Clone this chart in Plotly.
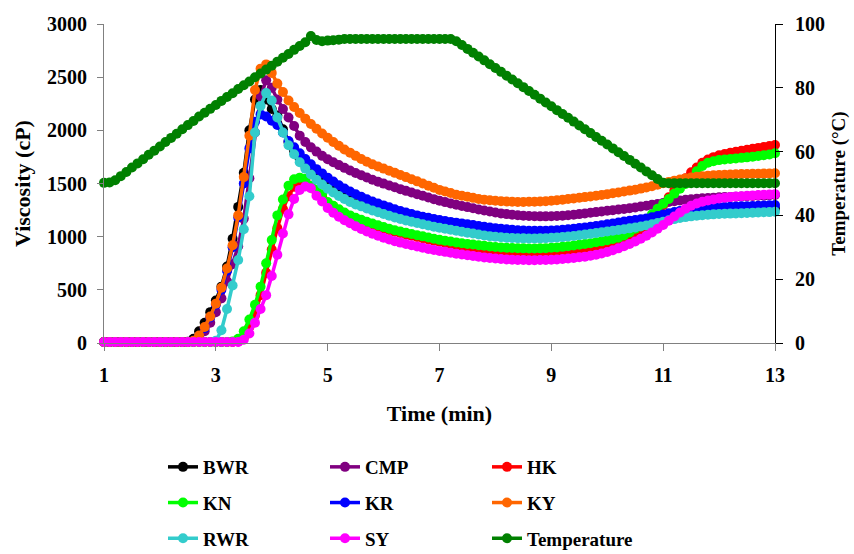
import plotly.graph_objects as go

time_min = [
    1.0, 1.1, 1.2, 1.3, 1.4, 1.5, 1.6, 1.7, 1.8, 1.9,
    2.0, 2.1, 2.2, 2.3, 2.4, 2.5, 2.6, 2.7, 2.8, 2.9,
    3.0, 3.1, 3.2, 3.3, 3.4, 3.5, 3.6, 3.7, 3.8, 3.9,
    4.0, 4.1, 4.2, 4.3, 4.4, 4.5, 4.6, 4.7, 4.8, 4.9,
    5.0, 5.1, 5.2, 5.3, 5.4, 5.5, 5.6, 5.7, 5.8, 5.9,
    6.0, 6.1, 6.2, 6.3, 6.4, 6.5, 6.6, 6.7, 6.8, 6.9,
    7.0, 7.1, 7.2, 7.3, 7.4, 7.5, 7.6, 7.7, 7.8, 7.9,
    8.0, 8.1, 8.2, 8.3, 8.4, 8.5, 8.6, 8.7, 8.8, 8.9,
    9.0, 9.1, 9.2, 9.3, 9.4, 9.5, 9.6, 9.7, 9.8, 9.9,
    10.0, 10.1, 10.2, 10.3, 10.4, 10.5, 10.6, 10.7, 10.8, 10.9,
    11.0, 11.1, 11.2, 11.3, 11.4, 11.5, 11.6, 11.7, 11.8, 11.9,
    12.0, 12.1, 12.2, 12.3, 12.4, 12.5, 12.6, 12.7, 12.8, 12.9,
    13.0,
]

bwr = [
    10, 10, 10, 10, 10, 10, 10, 10, 10, 10,
    10, 10, 10, 10, 10, 12, 40, 110, 190, 290,
    400, 530, 720, 980, 1280, 1600, 2000, 2290, 2380, 2290,
    2200, 2140, 2010, 1890, 1805, 1730, 1670, 1615, 1565, 1520,
    1480, 1445, 1413, 1384, 1357, 1333, 1315, 1295, 1276, 1259,
    1243, 1227, 1210, 1196, 1183, 1171, 1159, 1147, 1135, 1124,
    1114, 1104, 1095, 1086, 1077, 1068, 1059, 1050, 1042, 1035,
    1029, 1024, 1020, 1017, 1015, 1014, 1013, 1013, 1014, 1016,
    1019, 1022, 1026, 1031, 1037, 1043, 1050, 1058, 1065, 1072,
    1079, 1086, 1093, 1100, 1108, 1116, 1125, 1135, 1146, 1158,
    1171, 1184, 1195, 1205, 1214, 1221, 1227, 1232, 1236, 1240,
    1243, 1245, 1247, 1249, 1251, 1253, 1255, 1257, 1259, 1261,
    1265,
]

cmp_ = [
    10, 10, 10, 10, 10, 10, 10, 10, 10, 10,
    10, 10, 10, 10, 10, 10, 15, 50, 110, 190,
    290, 420, 580, 740, 910, 1170, 1550, 1980, 2320, 2470,
    2400, 2290, 2200, 2120, 2040, 1950, 1890, 1840, 1800, 1760,
    1728, 1700, 1673, 1647, 1622, 1599, 1577, 1556, 1536, 1517,
    1499, 1481, 1464, 1447, 1431, 1415, 1399, 1384, 1368, 1353,
    1338, 1325, 1312, 1300, 1289, 1278, 1267, 1256, 1246, 1236,
    1227, 1219, 1212, 1206, 1201, 1197, 1194, 1192, 1191, 1191,
    1192, 1194, 1197, 1201, 1206, 1212, 1218, 1225, 1231, 1237,
    1243, 1249, 1255, 1261, 1268, 1275, 1283, 1291, 1299, 1308,
    1317, 1326, 1334, 1341, 1347, 1352, 1357, 1361, 1364, 1367,
    1370, 1372, 1374, 1376, 1378, 1380, 1382, 1384, 1386, 1389,
    1392,
]

hk = [
    10, 10, 10, 10, 10, 10, 10, 10, 10, 10,
    10, 10, 10, 10, 10, 10, 10, 10, 10, 10,
    10, 10, 10, 10, 15, 50, 150, 260, 450, 660,
    880, 1080, 1260, 1380, 1470, 1520, 1530, 1470, 1420, 1380,
    1320, 1285, 1250, 1220, 1192, 1168, 1147, 1128, 1110, 1093,
    1077, 1062, 1047, 1034, 1021, 1009, 997, 985, 974, 963,
    952, 942, 932, 922, 912, 902, 892, 882, 872, 863,
    857, 852, 848, 845, 843, 842, 842, 842, 843, 845,
    848, 852, 857, 862, 868, 875, 883, 891, 900, 910,
    920, 930, 940, 955, 975, 1000, 1030, 1080, 1145, 1220,
    1295, 1370, 1435, 1495, 1550, 1605, 1650, 1695, 1725, 1748,
    1765, 1778, 1789, 1799, 1808, 1817, 1826, 1835, 1844, 1853,
    1862,
]

kn = [
    10, 10, 10, 10, 10, 10, 10, 10, 10, 10,
    10, 10, 10, 10, 10, 10, 10, 10, 10, 10,
    10, 10, 10, 15, 40, 110, 220, 360, 530, 750,
    969, 1200, 1350, 1480, 1540, 1555, 1545, 1480, 1440, 1400,
    1325, 1290, 1258, 1228, 1200, 1178, 1158, 1140, 1123, 1107,
    1090, 1075, 1061, 1048, 1036, 1025, 1014, 1003, 992, 981,
    970, 962, 954, 946, 938, 932, 926, 920, 914, 908,
    903, 899, 896, 893, 891, 890, 889, 889, 890, 892,
    895, 899, 904, 910, 917, 924, 931, 938, 947, 956,
    966, 978, 990, 1012, 1040, 1075, 1115, 1160, 1210, 1262,
    1310, 1355, 1405, 1450, 1495, 1555, 1615, 1665, 1695, 1710,
    1720, 1726, 1731, 1736, 1741, 1746, 1752, 1758, 1765, 1773,
    1784,
]

kr = [
    10, 10, 10, 10, 10, 10, 10, 10, 10, 10,
    10, 10, 10, 10, 10, 10, 20, 60, 140, 240,
    360, 500, 680, 900, 1180, 1500, 1830, 2080, 2150, 2130,
    2090, 2050, 1980, 1900, 1840, 1785, 1730, 1680, 1635, 1595,
    1555, 1518, 1484, 1453, 1425, 1399, 1375, 1352, 1331, 1312,
    1294, 1276, 1258, 1242, 1227, 1213, 1200, 1188, 1177, 1166,
    1156, 1147, 1139, 1132, 1125, 1117, 1109, 1101, 1093, 1086,
    1080, 1074, 1069, 1065, 1061, 1058, 1056, 1055, 1055, 1056,
    1058, 1061, 1065, 1070, 1075, 1081, 1087, 1094, 1101, 1108,
    1116, 1124, 1133, 1142, 1150, 1157, 1164, 1172, 1182, 1195,
    1208, 1220, 1231, 1241, 1250, 1257, 1263, 1268, 1272, 1275,
    1277, 1279, 1281, 1283, 1285, 1287, 1289, 1291, 1293, 1295,
    1298,
]

ky = [
    10, 10, 10, 10, 10, 10, 10, 10, 10, 10,
    10, 10, 10, 10, 10, 10, 20, 70, 150, 250,
    370, 520, 700, 920, 1200, 1560, 1950, 2380, 2580, 2620,
    2540, 2440, 2360, 2280, 2220, 2163, 2110, 2060, 2015, 1970,
    1930, 1890, 1855, 1820, 1790, 1760, 1730, 1705, 1680, 1660,
    1640, 1620, 1600, 1580, 1560, 1540, 1520, 1500, 1480, 1460,
    1440, 1425, 1410, 1395, 1385, 1375, 1365, 1355, 1348, 1342,
    1338, 1334, 1330, 1328, 1327, 1327, 1328, 1329, 1330, 1333,
    1337, 1342, 1348, 1354, 1360, 1366, 1372, 1378, 1385, 1392,
    1400, 1408, 1416, 1424, 1433, 1442, 1452, 1462, 1474, 1488,
    1502, 1515, 1527, 1538, 1548, 1556, 1563, 1569, 1574, 1578,
    1581, 1583, 1585, 1587, 1589, 1590, 1591, 1592, 1593, 1594,
    1596,
]

rwr = [
    -15, -15, -15, -15, -15, -15, -15, -15, -15, -15,
    -15, -15, -15, -15, -15, -15, -15, -15, -15, -10,
    20, 120, 320, 540, 780, 1070, 1380, 1980, 2230, 2350,
    2280, 2120, 1980, 1860, 1775, 1700, 1640, 1585, 1535, 1490,
    1450, 1415, 1383, 1354, 1327, 1303, 1285, 1265, 1246, 1229,
    1213, 1197, 1180, 1166, 1153, 1141, 1129, 1117, 1105, 1094,
    1084, 1074, 1065, 1056, 1047, 1038, 1029, 1020, 1012, 1005,
    999, 994, 990, 987, 985, 984, 983, 983, 984, 986,
    989, 992, 996, 1001, 1007, 1013, 1020, 1028, 1035, 1042,
    1049, 1056, 1063, 1070, 1078, 1086, 1095, 1105, 1116, 1128,
    1141, 1154, 1165, 1175, 1184, 1191, 1197, 1202, 1206, 1210,
    1213, 1215, 1217, 1219, 1221, 1223, 1225, 1227, 1229, 1231,
    1235,
]

sy = [
    10, 10, 10, 10, 10, 10, 10, 10, 10, 10,
    10, 10, 10, 10, 10, 10, 10, 10, 10, 10,
    10, 10, 10, 10, 10, 30, 90, 190, 320, 450,
    630, 830, 1030, 1210, 1355, 1440, 1472, 1455, 1385, 1330,
    1270, 1225, 1188, 1155, 1126, 1098, 1072, 1048, 1027, 1008,
    990, 973, 958, 944, 931, 919, 907, 896, 885, 875,
    866, 857, 848, 840, 833, 826, 819, 812, 805, 799,
    794, 790, 786, 783, 781, 780, 779, 779, 780, 781,
    783, 786, 790, 795, 800, 806, 812, 820, 830, 842,
    856, 872, 890, 910, 932, 955, 980, 1008, 1040, 1075,
    1110, 1150, 1190, 1228, 1262, 1290, 1312, 1328, 1340, 1350,
    1359, 1366, 1372, 1377, 1381, 1385, 1388, 1391, 1394, 1397,
    1400,
]

temperature = [
    50.2, 50.3, 51.0, 52.3, 53.6, 55.0, 56.3, 57.6, 59.0, 60.3,
    61.6, 63.0, 64.3, 65.6, 67.0, 68.3, 69.6, 71.0, 72.2, 73.4,
    74.6, 75.9, 77.1, 78.3, 79.6, 80.8, 82.0, 83.3, 84.5, 85.7,
    86.9, 88.2, 89.4, 90.6, 91.9, 93.1, 94.3, 96.2, 95.0, 94.6,
    94.8, 94.9, 95.1, 95.3, 95.3, 95.3, 95.3, 95.3, 95.3, 95.3,
    95.3, 95.3, 95.3, 95.3, 95.3, 95.3, 95.3, 95.3, 95.3, 95.3,
    95.3, 95.3, 95.3, 94.6, 93.4, 92.2, 91.0, 89.8, 88.6, 87.4,
    86.2, 85.0, 83.8, 82.6, 81.4, 80.2, 79.0, 77.8, 76.6, 75.4,
    74.2, 73.0, 71.8, 70.6, 69.4, 68.2, 67.0, 65.8, 64.6, 63.4,
    62.2, 61.0, 59.8, 58.6, 57.4, 56.2, 55.0, 53.8, 52.6, 51.4,
    50.2, 50.1, 50.1, 50.1, 50.1, 50.1, 50.1, 50.1, 50.1, 50.1,
    50.1, 50.1, 50.1, 50.1, 50.1, 50.1, 50.1, 50.1, 50.1, 50.1,
    50.1,
]

x_ticks = [1, 3, 5, 7, 9, 11, 13]

FONT = "Liberation Serif"

series = [
    ("BWR", bwr, "#000000", "legend"),
    ("CMP", cmp_, "#800080", "legend2"),
    ("HK", hk, "#FF0000", "legend3"),
    ("KN", kn, "#00FF00", "legend"),
    ("KR", kr, "#0000FF", "legend2"),
    ("KY", ky, "#FF6600", "legend3"),
    ("RWR", rwr, "#33CCCC", "legend"),
    ("SY", sy, "#FF00FF", "legend2"),
]

fig = go.Figure()
for name, vals, color, leg in series:
    fig.add_trace(go.Scatter(
        x=time_min, y=vals, name=name, mode="lines+markers",
        line=dict(color=color, width=3.5),
        marker=dict(color=color, size=10),
        cliponaxis=False, legend=leg, legendgroup=name,
    ))

fig.add_trace(go.Scatter(
    x=time_min, y=temperature, name="Temperature", mode="lines+markers",
    line=dict(color="#008000", width=3.5),
    marker=dict(color="#008000", size=10),
    cliponaxis=False, yaxis="y2", legend="legend3", legendgroup="Temperature",
))

tick_font = dict(family=FONT, size=20, color="black", weight="bold")
title_font = dict(family=FONT, size=22, color="black", weight="bold")
leg_font = dict(family=FONT, size=19, color="black", weight="bold")

PLOT_L, PLOT_W = 104, 671

def leg(xpx):
    return dict(x=(xpx - PLOT_L) / PLOT_W, y=1 - 448 / 554, xref="paper", yref="container",
                xanchor="left", yanchor="top",
                orientation="v", font=leg_font, tracegroupgap=8,
                bgcolor="rgba(0,0,0,0)", borderwidth=0)

fig.update_layout(
    width=854, height=554,
    margin=dict(l=104, r=79, t=24, b=211),
    paper_bgcolor="white", plot_bgcolor="white",
    showlegend=True,
    xaxis=dict(
        range=[1, 13], tickvals=x_ticks, ticks="outside", ticklen=7,
        tickcolor="#808080", showline=True, linecolor="#808080", linewidth=1,
        showgrid=False, zeroline=False, tickfont=tick_font,
        ticklabelstandoff=7, automargin=False,
        title=dict(text="Time (min)", font=title_font, standoff=20),
    ),
    yaxis=dict(
        range=[0, 3000], dtick=500, ticks="outside", ticklen=6,
        tickcolor="#808080", showline=True, linecolor="#808080", linewidth=1,
        showgrid=False, zeroline=False, tickfont=tick_font,
        ticklabelstandoff=6, automargin=False,
        title=dict(text="Viscosity (cP)", font=title_font, standoff=10),
    ),
    yaxis2=dict(
        range=[0, 100], dtick=20, overlaying="y", side="right",
        ticks="outside", ticklen=7, tickcolor="black",
        showline=True, linecolor="black", linewidth=1,
        showgrid=False, zeroline=False, tickfont=tick_font,
        ticklabelstandoff=8, automargin=False,
        title=dict(text="Temperature (°C)", font=dict(family=FONT, size=19, color="black", weight="bold"), standoff=7),
    ),
    legend=leg(163),
    legend2=leg(325),
    legend3=leg(487),
)

fig.write_html("out.html")
